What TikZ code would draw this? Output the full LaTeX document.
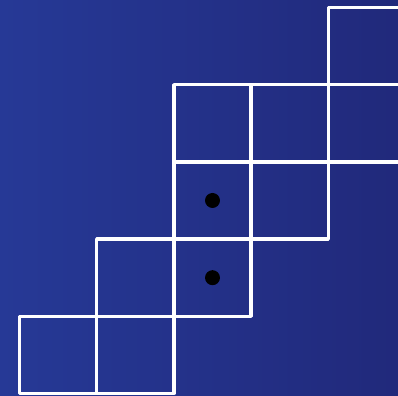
\documentclass[tikz,border=0pt]{standalone}
\definecolor{bgleft}{RGB}{38,57,150}
\definecolor{bgright}{RGB}{33,41,123}
\begin{document}
\begin{tikzpicture}[
  line cap=round,
  line join=round
]
  \def\W{1.2pt}
  \def\r{0.097}

  % Фон
  \shade[left color=bgleft,right color=bgright]
    (-0.2526,-0.0324) rectangle (4.903,5.097);
  \useasboundingbox (-0.2526,-0.0324) rectangle (4.903,5.097);

  % Клетки
  \foreach \x/\y in {0/0,1/0,1/1,2/1,2/2,3/2,2/3,3/3,4/3,4/4}
    \draw[white,line width=\W] (\x,\y) rectangle ++(1,1);

  % Точки
  \fill[black] (2.5,2.5) circle (\r);
  \fill[black] (2.5,1.5) circle (\r);
\end{tikzpicture}
\end{document}
